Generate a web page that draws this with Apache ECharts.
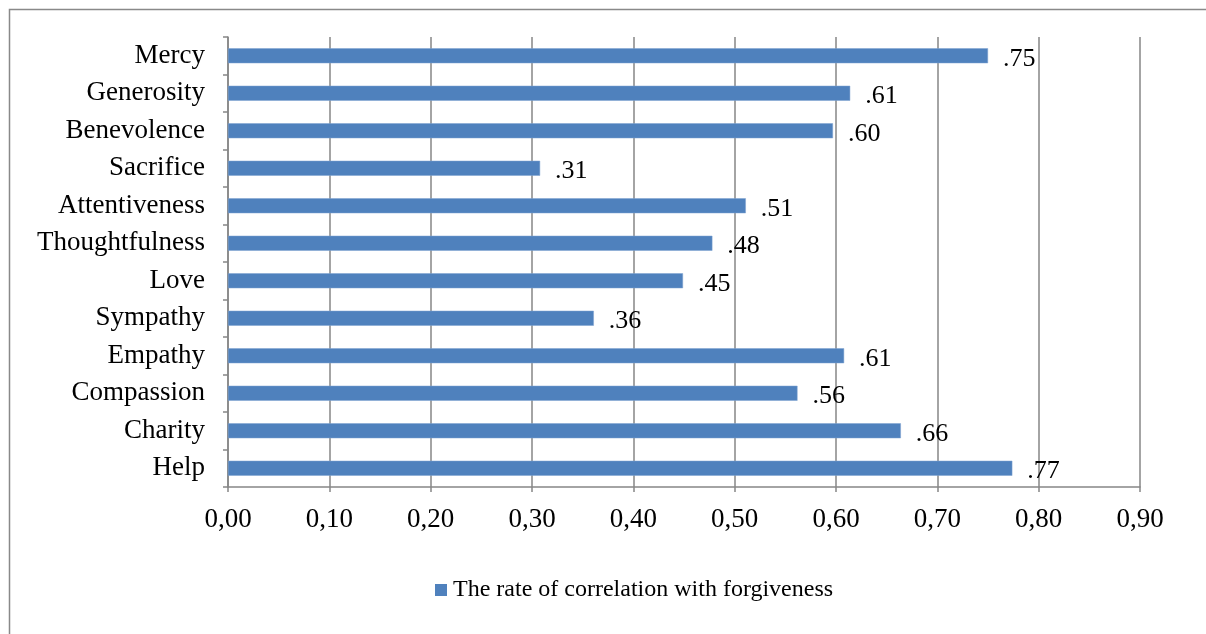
<!DOCTYPE html>
<html>
<head>
<meta charset="utf-8">
<script src="https://cdn.jsdelivr.net/npm/echarts@6/dist/echarts.min.js"></script>
<style>html,body{margin:0;padding:0;background:#fff;}#c{width:1206px;height:634px;}</style>
</head>
<body>
<div id="c"></div>
<script>
// Categories listed top to bottom
const categories = ['Mercy','Generosity','Benevolence','Sacrifice','Attentiveness','Thoughtfulness','Love','Sympathy','Empathy','Compassion','Charity','Help'];
const values = [0.750,0.614,0.597,0.308,0.511,0.478,0.449,0.361,0.608,0.562,0.664,0.774];
const seriesName = 'The rate of correlation with forgiveness';
const xTicks = [0,0.1,0.2,0.3,0.4,0.5,0.6,0.7,0.8,0.9];

const FONT = '"Liberation Serif", "Times New Roman", serif';
const chart = echarts.init(document.getElementById('c'), null, {renderer:'canvas'});
chart.setOption({
  animation:false,
  backgroundColor:'#fff',
  textStyle:{fontFamily:FONT},
  graphic:[{type:'rect',silent:true,shape:{x:9.5,y:9.5,width:1300,height:800},style:{fill:'none',stroke:'#898989',lineWidth:1.5}}],
  grid:{left:228,right:66,top:37,bottom:147,containLabel:false},
  legend:{
    left:430, top:573, itemWidth:12, itemHeight:12, itemGap:10,
    icon:'rect',
    itemStyle:{borderWidth:0},
    textStyle:{fontFamily:FONT,fontSize:24,color:'#000',padding:[0,0,0,1]},
    data:[seriesName]
  },
  xAxis:{
    type:'value', min:0, max:0.9, interval:0.1,
    axisLine:{show:true,lineStyle:{color:'#868686',width:1.5}},
    axisTick:{show:true,length:5,lineStyle:{color:'#868686',width:1.5}},
    splitLine:{show:true,lineStyle:{color:'#868686',width:1.5}},
    axisLabel:{fontFamily:FONT,fontSize:27,color:'#000',margin:19,formatter:v=>v.toFixed(2).replace('.',',')}
  },
  yAxis:{
    type:'category', inverse:true, data:categories,
    axisLine:{show:true,lineStyle:{color:'#868686',width:1.5}},
    axisTick:{show:true,length:5,inside:false,lineStyle:{color:'#868686',width:1.5}},
    axisLabel:{fontFamily:FONT,fontSize:27,color:'#000',margin:23,padding:[2,0,0,0]}
  },
  series:[{
    name:seriesName, type:'bar', data:values, barWidth:15,
    itemStyle:{color:'#4F81BD',borderColor:'#7FA3D0',borderWidth:0.5},
    label:{show:true,position:'right',distance:15,fontFamily:FONT,fontSize:26,color:'#000',
      offset:[0,3],
      formatter:p=>p.value.toFixed(2).replace(/^0/,'')}
  }]
});
</script>
</body>
</html>
